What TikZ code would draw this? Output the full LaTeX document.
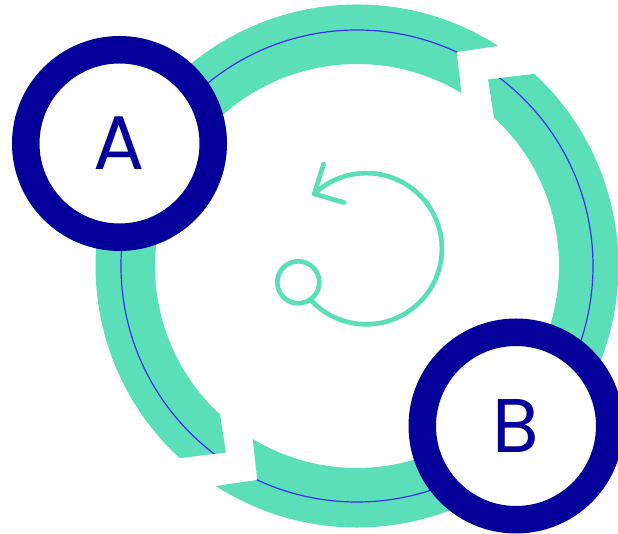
\documentclass[tikz,border=0pt]{standalone}
\usepackage{fontspec}
\usepackage{xcolor}
\usepackage{tikz}
\usetikzlibrary{calc}
\newfontfamily\hubfont{Poppins}
\definecolor{ringteal}{RGB}{91,223,185}
\definecolor{hubnavy}{RGB}{4,0,153}
\definecolor{threadblue}{RGB}{60,46,240}

\begin{document}
\begin{tikzpicture}[
    x=1pt, y=1pt,
    band/.style={fill=ringteal},
    thread/.style={draw=threadblue, line width=1.2pt},
    hub/.style={circle, draw=hubnavy, line width=27.5pt, fill=white, minimum size=187.5pt, inner sep=0pt, text=hubnavy, font=\hubfont\fontsize{76}{76}\selectfont},
    loopline/.style={draw=ringteal, line width=4.7pt, line cap=round, line join=round},
]
    \useasboundingbox (0,0) rectangle (618,534);
    \coordinate (ctr) at (357,268);
    \coordinate (turn) at (366.3,285.3);
    % two halves of the ring, cut with a chevron at each gap
    \foreach \rot in {0,180}{
        \begin{scope}[shift={(ctr)}]
            \clip (227.3+\rot:261.5) -- (234.9+\rot:228) -- (227.3+\rot:202)
                arc[start angle=227.3+\rot, end angle=58.9+\rot, radius=202]
                -- (65+\rot:236) -- (57.3+\rot:261.5)
                arc[start angle=57.3+\rot, end angle=227.3+\rot, radius=261.5] -- cycle;
            \fill[band] (0,0) circle (270);
            \draw[thread] (0,0) circle (236);
        \end{scope}
    }
    \node[hub] (a) at (119.5,390.5) {A};
    \node[hub] (b) at (516,108) {B};
    % turning arrow in the middle
    \node[circle, draw=ringteal, line width=4.7pt, minimum size=42pt, inner sep=0pt] (start) at (298.3,251.7) {};
    \draw[loopline] (turn) ++(222:75.6) arc[start angle=222, end angle=493.5, radius=75.6] coordinate (tip);
    \draw[loopline] (tip) ++(72.6:31) -- (tip) -- ++(-16.2:31);
\end{tikzpicture}
\end{document}
